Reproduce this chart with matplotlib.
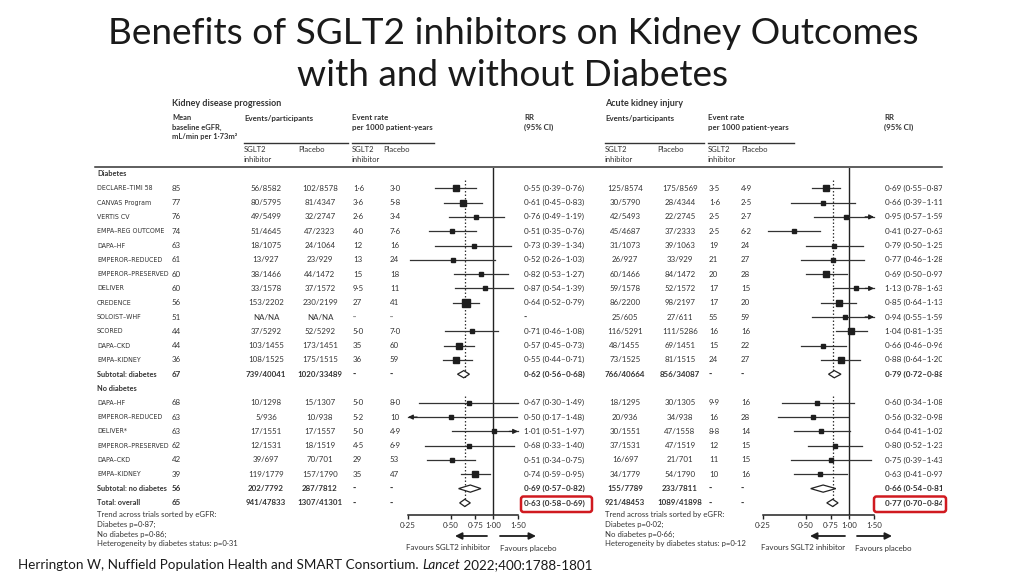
"""Slide: benefits of SGLT2 inhibitors on kidney outcomes (forest plot, two panels)."""
import matplotlib.pyplot as plt
from matplotlib import font_manager
from matplotlib.font_manager import FontProperties
from matplotlib.patches import Polygon, FancyBboxPatch
from matplotlib.transforms import Bbox, TransformedBbox

plt.rcParams['font.family'] = ['Lato', 'DejaVu Sans']

# ---------------- data ----------------
trials_diab = ['DECLARE–TIMI 58', 'CANVAS Program', 'VERTIS CV', 'EMPA–REG OUTCOME', 'DAPA–HF',
               'EMPEROR–REDUCED', 'EMPEROR–PRESERVED', 'DELIVER', 'CREDENCE', 'SOLOIST–WHF',
               'SCORED', 'DAPA–CKD', 'EMPA–KIDNEY']
egfr_diab = [85, 77, 76, 74, 63, 61, 60, 60, 56, 51, 44, 44, 36]
trials_nodiab = ['DAPA–HF', 'EMPEROR–REDUCED', 'DELIVER*', 'EMPEROR–PRESERVED', 'DAPA–CKD', 'EMPA–KIDNEY']
egfr_nodiab = [68, 63, 63, 62, 42, 39]
egfr_summary = [67, 56, 65]   # subtotal diabetes, subtotal no diabetes, total

# kidney disease progression
kdp_ev_sglt = ['56/8582', '80/5795', '49/5499', '51/4645', '18/1075', '13/927', '38/1466', '33/1578',
               '153/2202', 'NA/NA', '37/5292', '103/1455', '108/1525', '739/40041',
               '10/1298', '5/936', '17/1551', '12/1531', '39/697', '119/1779', '202/7792', '941/47833']
kdp_ev_pbo = ['102/8578', '81/4347', '32/2747', '47/2323', '24/1064', '23/929', '44/1472', '37/1572',
              '230/2199', 'NA/NA', '52/5292', '173/1451', '175/1515', '1020/33489',
              '15/1307', '10/938', '17/1557', '18/1519', '70/701', '157/1790', '287/7812', '1307/41301']
kdp_rate_sglt = ['1·6', '3·6', '2·6', '4·0', '12', '13', '15', '9·5', '27', '··', '5·0', '35', '36', '··',
                 '5·0', '5·2', '5·0', '4·5', '29', '35', '··', '··']
kdp_rate_pbo = ['3·0', '5·8', '3·4', '7·6', '16', '24', '18', '11', '41', '··', '7·0', '60', '59', '··',
                '8·0', '10', '4·9', '6·9', '53', '47', '··', '··']
kdp_rr = [0.55, 0.61, 0.76, 0.51, 0.73, 0.52, 0.82, 0.87, 0.64, None, 0.71, 0.57, 0.55, 0.62,
          0.67, 0.50, 1.01, 0.68, 0.51, 0.74, 0.69, 0.63]
kdp_lo = [0.39, 0.45, 0.49, 0.35, 0.39, 0.26, 0.53, 0.54, 0.52, None, 0.46, 0.45, 0.44, 0.56,
          0.30, 0.17, 0.51, 0.33, 0.34, 0.59, 0.57, 0.58]
kdp_hi = [0.76, 0.83, 1.19, 0.76, 1.34, 1.03, 1.27, 1.39, 0.79, None, 1.08, 0.73, 0.71, 0.68,
          1.49, 1.48, 1.97, 1.40, 0.75, 0.95, 0.82, 0.69]

# acute kidney injury
aki_ev_sglt = ['125/8574', '30/5790', '42/5493', '45/4687', '31/1073', '26/927', '60/1466', '59/1578',
               '86/2200', '25/605', '116/5291', '48/1455', '73/1525', '766/40664',
               '18/1295', '20/936', '30/1551', '37/1531', '16/697', '34/1779', '155/7789', '921/48453']
aki_ev_pbo = ['175/8569', '28/4344', '22/2745', '37/2333', '39/1063', '33/929', '84/1472', '52/1572',
              '98/2197', '27/611', '111/5286', '69/1451', '81/1515', '856/34087',
              '30/1305', '34/938', '47/1558', '47/1519', '21/701', '54/1790', '233/7811', '1089/41898']
aki_rate_sglt = ['3·5', '1·6', '2·5', '2·5', '19', '21', '20', '17', '17', '55', '16', '15', '24', '··',
                 '9·9', '16', '8·8', '12', '11', '10', '··', '··']
aki_rate_pbo = ['4·9', '2·5', '2·7', '6·2', '24', '27', '28', '15', '20', '59', '16', '22', '27', '··',
                '16', '28', '14', '15', '15', '16', '··', '··']
aki_rr = [0.69, 0.66, 0.95, 0.41, 0.79, 0.77, 0.69, 1.13, 0.85, 0.94, 1.04, 0.66, 0.88, 0.79,
          0.60, 0.56, 0.64, 0.80, 0.75, 0.63, 0.66, 0.77]
aki_lo = [0.55, 0.39, 0.57, 0.27, 0.50, 0.46, 0.50, 0.78, 0.64, 0.55, 0.81, 0.46, 0.64, 0.72,
          0.34, 0.32, 0.41, 0.52, 0.39, 0.41, 0.54, 0.70]
aki_hi = [0.87, 1.11, 1.59, 0.63, 1.25, 1.28, 0.97, 1.63, 1.13, 1.59, 1.35, 0.96, 1.20, 0.88,
          1.08, 0.98, 1.02, 1.23, 1.43, 0.97, 0.81, 0.84]

kdp_notes = ['Trend across trials sorted by eGFR:', 'Diabetes p=0·87;', 'No diabetes p=0·86;',
             'Heterogeneity by diabetes status: p=0·31']
aki_notes = ['Trend across trials sorted by eGFR:', 'Diabetes p=0·02;', 'No diabetes p=0·66;',
             'Heterogeneity by diabetes status: p=0·12']

xticks = [0.25, 0.50, 0.75, 1.00, 1.50]

title_lines = ['Benefits of SGLT2 inhibitors on Kidney Outcomes', 'with and without Diabetes']
citation = ['Herrington W, Nuffield Population Health and SMART Consortium. ', 'Lancet', ' 2022;400:1788-1801']

# ---------------- layout ----------------
W, H = 1027, 578
fig = plt.figure(figsize=(W / 100, H / 100), dpi=100)
ax = fig.add_axes([0, 0, 1, 1])
ax.set_xlim(0, W)
ax.set_ylim(H, 0)
ax.axis('off')
rend = fig.canvas.get_renderer()

TXT = '#333333'
FS = 5.7
ROW0, DY = 174, 14.3
AX_TOP, AX_BOT = 168, 515

row_idx = list(range(1, 15)) + list(range(16, 24))
summary_rows = {13, 20, 21}


def pick_narrow_font():
    """A condensed sans for the trial names (the source figure uses a narrow face)."""
    fonts = font_manager.fontManager.ttflist
    for f in fonts:
        if f.name == 'Liberation Sans Narrow' and f.style == 'normal' and f.weight in (400, 'normal'):
            return FontProperties(fname=f.fname)
    for f in fonts:
        if ('Condensed' in f.name or f.stretch in ('condensed', 'semi-condensed')) \
                and f.style == 'normal' and f.weight in (400, 'normal') and 'Mono' not in f.name:
            return FontProperties(fname=f.fname)
    return FontProperties(family='Lato')


def row_y(i):
    return ROW0 + i * DY


def t(x, y, s, bold=False, size=FS, ha='left', **kw):
    return ax.text(x, y, s, fontsize=size, ha=ha, va='center', color=TXT,
                   fontweight='bold' if bold else 'normal', **kw)


def fit_size(s, width_px, **kw):
    probe = ax.text(0, 0, s, fontsize=10, **kw)
    w = probe.get_window_extent(rend).width
    probe.remove()
    return 10 * width_px / w


def fmt_rr(r, lo, hi):
    if r is None:
        return '··'
    return f'{r:.2f} ({lo:.2f}–{hi:.2f})'.replace('.', '·')


def n_events(a, b):
    return int(a.split('/')[0]) + int(b.split('/')[0])


def draw_panel(x0, x1, cols, ev_s, ev_p, rt_s, rt_p, rr, lo, hi, notes, clip_x=None):
    fax = fig.add_axes([x0 / W, 1 - AX_BOT / H, (x1 - x0) / W, (AX_BOT - AX_TOP) / H])
    fax.set_xscale('log')
    fax.set_xlim(0.25, 1.5)
    fax.set_ylim(AX_BOT, AX_TOP)
    fax.patch.set_alpha(0)
    for s in ['top', 'left', 'right']:
        fax.spines[s].set_visible(False)
    fax.spines['bottom'].set_linewidth(1.1)
    fax.spines['bottom'].set_color('#222222')
    fax.set_yticks([])
    fax.set_xticks(xticks)
    fax.set_xticklabels([f'{v:.2f}'.replace('.', '·') for v in xticks])
    fax.minorticks_off()
    fax.tick_params(axis='x', direction='out', length=3, width=1, pad=2,
                    labelsize=FS, labelcolor=TXT, color='#222222')
    fax.axvline(1.0, color='#222222', lw=1.0)
    ov = rr[-1]
    fax.plot([ov, ov], [row_y(1) - 8, row_y(14) + 5], ls=(0, (1.2, 1.6)), color='#333333', lw=0.9)
    fax.plot([ov, ov], [row_y(16) - 7, row_y(23) + 5], ls=(0, (1.2, 1.6)), color='#333333', lw=0.9)

    clip = None
    if clip_x is not None:
        clip = TransformedBbox(Bbox([[0, 0], [clip_x, H]]), ax.transData)

    for k, i in enumerate(row_idx):
        y = row_y(i)
        b = k in summary_rows
        t(cols[0], y, ev_s[k], bold=b, ha='center')
        t(cols[1], y, ev_p[k], bold=b, ha='center')
        t(cols[2], y, rt_s[k], bold=b)
        t(cols[3], y, rt_p[k], bold=b)
        txt = t(cols[4], y, fmt_rr(rr[k], lo[k], hi[k]), bold=b, size=FS + 0.2)
        if clip is not None:
            txt.set_clip_box(clip)
            txt.set_clip_on(True)
        if rr[k] is None:
            continue
        if b:
            fax.add_patch(Polygon([[lo[k], y], [rr[k], y - 3.6], [hi[k], y], [rr[k], y + 3.6]],
                                  closed=True, facecolor='white', edgecolor='#222222',
                                  lw=0.9, clip_on=False, zorder=3))
            continue
        a, c = max(lo[k], 0.25), min(hi[k], 1.5)
        fax.plot([a, c], [y, y], color='#333333', lw=0.9, clip_on=False, zorder=2)
        arrow = dict(arrowstyle='-|>', color='#222222', lw=0.9, mutation_scale=7, shrinkA=0, shrinkB=0)
        if lo[k] < 0.25:
            fax.annotate('', xy=(0.25, y), xytext=(0.29, y), arrowprops=arrow, annotation_clip=False)
        if hi[k] > 1.5:
            fax.annotate('', xy=(1.5, y), xytext=(1.3, y), arrowprops=arrow, annotation_clip=False)
        side = 2.0 + 0.26 * n_events(ev_s[k], ev_p[k]) ** 0.5
        fax.plot(rr[k], y, 's', ms=side * 0.72, color='#1e1e1e', mec='#1e1e1e',
                 clip_on=False, zorder=4)

    for j, s in enumerate(notes):
        t(cols[5], 515 + j * 9.5, s, size=FS - 0.1)
    return fax


# left panel: kidney disease progression
draw_panel(408, 518, [266, 320, 353, 390, 524, 97], kdp_ev_sglt, kdp_ev_pbo,
           kdp_rate_sglt, kdp_rate_pbo, kdp_rr, kdp_lo, kdp_hi, [])
# right panel: acute kidney injury
draw_panel(763, 874, [625, 680, 709, 741, 885, 605], aki_ev_sglt, aki_ev_pbo,
           aki_rate_sglt, aki_rate_pbo, aki_rr, aki_lo, aki_hi, aki_notes, clip_x=942)

# row labels + eGFR column
labels = trials_diab + ['Subtotal: diabetes'] + trials_nodiab + ['Subtotal: no diabetes', 'Total: overall']
egfr = egfr_diab + [egfr_summary[0]] + egfr_nodiab + egfr_summary[1:]
narrow = pick_narrow_font()
lab_fs = min(6.2, fit_size('EMPEROR–PRESERVED', 72, fontproperties=narrow))
narrow.set_size(lab_fs)
sum_fs = min(FS, fit_size('Subtotal: no diabetes', 70, fontweight='bold'))
t(97, row_y(0), 'Diabetes', bold=True, size=sum_fs)
t(97, row_y(15), 'No diabetes', bold=True, size=sum_fs)
for k, i in enumerate(row_idx):
    b = k in summary_rows
    if b:
        t(97, row_y(i), labels[k], bold=True, size=sum_fs)
    else:
        ax.text(97, row_y(i), labels[k], ha='left', va='center', color=TXT, fontproperties=narrow)
    t(172, row_y(i), str(egfr[k]), bold=b)
for j, s in enumerate(kdp_notes):
    t(97, 515 + j * 9.5, s, size=FS - 0.1)

# table headers
t(172, 103, 'Kidney disease progression', bold=True, size=6.5)
t(605, 103, 'Acute kidney injury', bold=True, size=6.5)
for j, s in enumerate(['Mean', 'baseline eGFR,', 'mL/min per 1·73m²']):
    t(172, 118 + j * 9.5, s, bold=True, size=FS - 0.3)
for xe, xr, xq in [(244, 352, 524), (605, 708, 884)]:
    t(xe, 118, 'Events/participants', bold=True)
    t(xr, 118, 'Event rate', bold=True)
    t(xr, 127.5, 'per 1000 patient-years', bold=True)
    t(xq, 118, 'RR', bold=True)
    t(xq, 127.5, '(95% CI)', bold=True)
for xs, xp in [(244, 298), (352, 383), (605, 657), (708, 741)]:
    t(xs, 150, 'SGLT2', size=FS - 0.2)
    t(xs, 159, 'inhibitor', size=FS - 0.2)
    t(xp, 150, 'Placebo', size=FS - 0.2)
for xa, xb in [(244, 348), (352, 434), (605, 704), (708, 794)]:
    ax.plot([xa, xb], [143, 143], color='#333333', lw=1.0)
ax.plot([95, 942], [167, 167], color='#333333', lw=1.1)

# favours arrows
arrow_kw = dict(arrowstyle='-|>', color='#1e1e1e', lw=1.3, mutation_scale=10, shrinkA=0, shrinkB=0)
for tail, head in [(487, 455), (500, 536), (845, 810), (857, 892)]:
    ax.annotate('', xy=(head, 536), xytext=(tail, 536), arrowprops=arrow_kw)
for xc, s in [(448, 'Favours SGLT2 inhibitor'), (528, 'Favours placebo'),
              (803, 'Favours SGLT2 inhibitor'), (883, 'Favours placebo')]:
    t(xc, 548, s, ha='center', size=FS)

# red highlight boxes
for xa, xb in [(521, 592), (874, 946)]:
    ax.add_patch(FancyBboxPatch((xa, 496.5), xb - xa, 15.5, boxstyle='round,pad=0,rounding_size=2.5',
                                facecolor='none', edgecolor='#d01a20', lw=1.8))

# title
title_fs = fit_size(title_lines[0], 811)
ax.text(513, 33, title_lines[0], fontsize=title_fs, ha='center', va='center', color='#1a1a1a')
ax.text(513, 75, title_lines[1], fontsize=title_fs, ha='center', va='center', color='#1a1a1a')

# citation (journal name in italics)
cite_fs = fit_size(''.join(citation), 575)
x = 18
for s, style in zip(citation, ['normal', 'italic', 'normal']):
    tt = ax.text(x, 565, s, fontsize=cite_fs, style=style, ha='left', va='center', color='#1a1a1a')
    x += tt.get_window_extent(rend).width

fig.savefig('out.png', dpi=100, facecolor='white')
